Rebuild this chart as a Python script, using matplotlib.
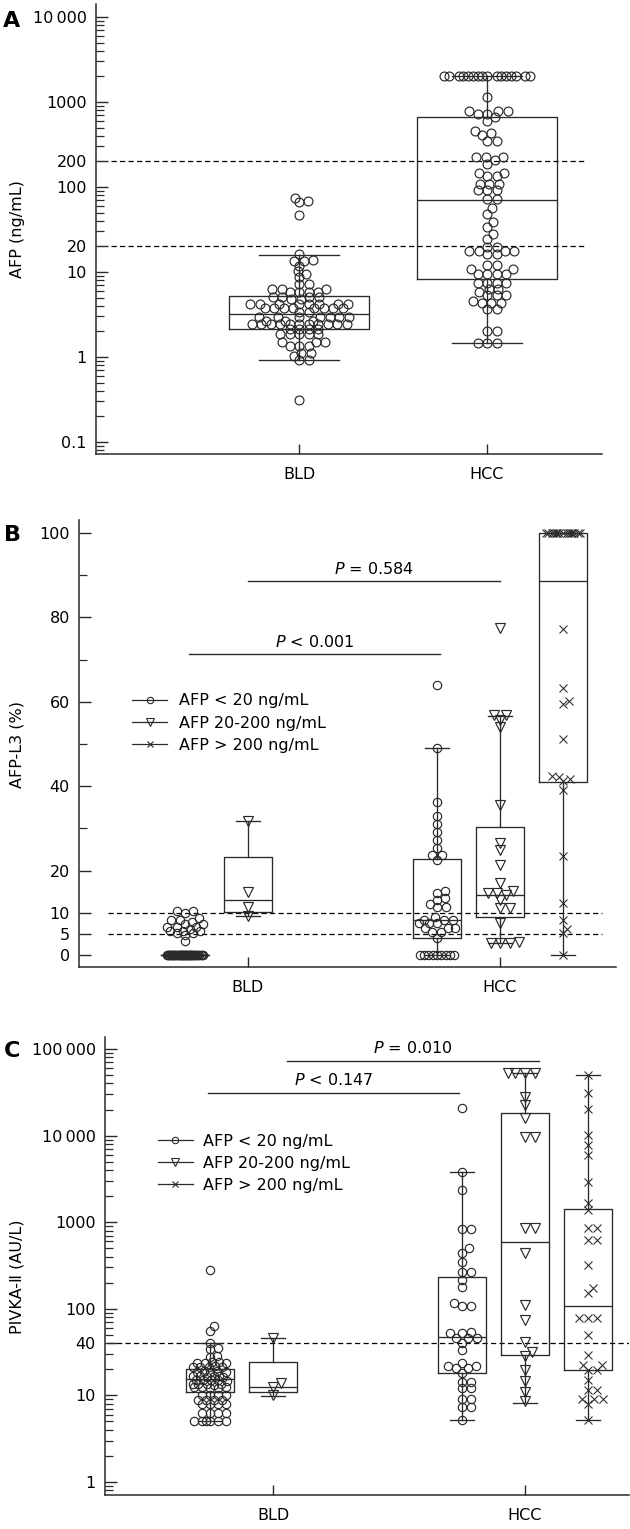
import numpy as np
import matplotlib
matplotlib.use("Agg")
import matplotlib.pyplot as plt
from matplotlib.lines import Line2D
from matplotlib.ticker import FixedLocator, FixedFormatter, NullFormatter

plt.rcParams['font.family'] = ['DejaVu Sans', 'Noto Sans CJK SC']
plt.rcParams['font.size'] = 11.5
plt.rcParams['mathtext.fontset'] = 'dejavusans'

# ---------------- data ----------------
groups = ["BLD", "HCC"]
legend_labels = ["AFP < 20 ng/mL", "AFP 20-200 ng/mL", "AFP > 200 ng/mL"]

# Panel A : AFP (ng/mL)
A_BLD = [74.8, 69, 66, 47, 16.3, 13.6, 13.8, 13.4, 11.9, 10.2, 9.5, 8.7, 7.2, 7.2,
         6.3, 6.3, 6.3, 5.8, 5.8, 5.8, 5.8, 5.04, 5.04, 5.04, 5.04, 4.8, 4.8,
         4.2, 4.2, 4.2, 4.2, 4.2, 4.2, 4.2, 4.2, 3.74, 3.74, 3.74, 3.74, 3.74, 3.74,
         3.74, 3.74, 3.36, 3.36, 2.93, 2.93, 2.93, 2.93, 2.93, 2.93, 2.93, 2.67, 2.67,
         2.67, 2.44, 2.44, 2.44, 2.44, 2.44, 2.44, 2.44, 2.44, 2.44, 2.44, 2.44,
         2.13, 2.13, 2.13, 2.13, 1.86, 1.86, 1.86, 1.86, 1.86, 1.49, 1.49, 1.49,
         1.36, 1.36, 1.36, 1.13, 1.13, 1.04, 0.93, 0.93, 0.31]
A_HCC = [2000] * 16 + [1150, 780, 780, 780, 723, 723, 660, 605, 460, 430, 405, 350, 350,
         224, 224, 224, 208, 187, 148, 148, 133, 133, 108, 108, 108, 91, 91, 91,
         72, 72, 56, 48, 39, 34, 28, 24.4, 19.8, 19.8, 17.8, 17.8, 17.8, 17.8,
         16.3, 16.3, 12.2, 12.2, 10.8, 10.8, 9.5, 9.5, 9.5, 9.5, 7.5, 7.5, 7.5, 7.5,
         6.3, 6.3, 5.8, 5.3, 5.3, 5.3, 4.6, 4.3, 4.3, 4.3, 3.67, 3.67, 2.04, 2.04,
         1.45, 1.45, 1.45]
A_whislo = [0.92, 1.45]
A_q1 = [2.13, 8.3]
A_med = [3.2, 71]
A_q3 = [5.2, 660]
A_whishi = [15.8, 2000]
A_cutoffs = [20, 200]
A_yticks = [0.1, 1, 10, 20, 100, 200, 1000, 10000]
A_yticklabels = ["0.1", "1", "10", "20", "100", "200", "1000", "10\u2009000"]

# Panel B : AFP-L3 (%)
B_BLD_lt20 = [10.5, 10.5, 10.0, 8.7, 8.3, 8.3, 7.9, 7.3, 7.3, 6.7, 6.7, 6.7, 6.2,
              5.8, 5.8, 5.8, 5.1, 5.1, 4.7, 3.3] + [0] * 45
B_BLD_20_200 = [31.8, 15.0, 11.3, 9.2]
B_HCC_lt20 = [64.0, 49.0, 36.3, 32.9, 31.0, 29.2, 27.3, 25.3, 23.7, 23.7, 22.5, 15.2,
              14.6, 13.4, 13.0, 12.2, 11.4, 11.4, 9.0, 8.3, 8.3, 8.3, 7.5, 7.5, 7.5,
              6.5, 6.3, 6.3, 5.5, 5.5, 4.1] + [0] * 9
B_HCC_20_200 = [77.6, 56.9, 56.9, 55.7, 54.1, 35.5, 26.5, 24.9, 21.3, 17.0, 15.2,
                14.8, 14.8, 14.2, 13.0, 11.2, 11.2, 7.7, 3.2, 2.8, 2.8, 2.8]
B_HCC_gt200 = [100] * 15 + [77.2, 63.2, 60.2, 59.5, 51.1, 42.5, 42.2, 41.7, 41.2, 39.1,
                            23.5, 12.4, 8.3, 6.1, 5.1, 0.0]
# box stats order: BLD<20, BLD 20-200, HCC<20, HCC 20-200, HCC>200
B_whislo = [0, 9.2, 0, 2.8, 0]
B_q1 = [0, 10.1, 4.1, 8.9, 40.9]
B_med = [0, 13.0, 8.3, 14.2, 88.6]
B_q3 = [0, 23.3, 22.7, 30.3, 100]
B_whishi = [0, 31.8, 49.0, 56.7, 100]
B_cutoffs = [5, 10]
B_yticks = [0, 5, 10, 20, 40, 60, 80, 100]
B_pvals = ["$\\mathit{P}$ < 0.001", "$\\mathit{P}$ = 0.584"]
B_pline_y = [71.3, 88.6]

# Panel C : PIVKA-II (AU/L)
C_BLD_lt20 = [281, 63, 56, 40, 35, 34, 28.5, 27.5, 24.2, 23.8, 23.5, 24.0, 23.6,
              21.8, 21.4, 21.2, 21.5, 21.0, 19.0, 18.8, 18.6, 18.9, 18.5, 16.9, 16.7,
              16.5, 16.8, 16.6, 16.4, 15.2, 15.0, 14.8, 15.1, 14.9, 13.7, 13.5, 13.3,
              13.6, 13.4, 12.5, 12.4, 12.2, 12.6, 12.3, 10.1, 10.1, 10.1, 10.1, 8.9, 8.9,
              8.9, 8.9, 7.9, 7.9, 7.9, 7.9, 6.2, 6.2, 6.2, 6.2, 5.0, 5.0, 5.0, 5.0, 5.0, 5.0]
C_BLD_20_200 = [46, 13.8, 12.6, 10.0]
C_HCC_lt20 = [20650, 3830, 2350, 828, 828, 500, 445, 350, 264, 264, 215, 180, 116, 108,
              108, 54, 52, 52, 46, 46, 46, 40.5, 33.4, 23.8, 21.9, 21.9, 20.5, 20.5,
              18.0, 14.4, 14.4, 12.1, 12.1, 9.2, 9.2, 7.4, 7.4, 5.2]
C_HCC_20_200 = [52400, 52400, 52400, 52400, 28100, 22600, 15800, 9700, 9700, 850, 850,
                437, 111, 74, 41.7, 32, 28.5, 19.7, 14.8, 11.0, 8.5]
C_HCC_gt200 = [50100, 30800, 20300, 10200, 7800, 5970, 2940, 1650, 1380, 850, 850, 620,
               620, 320, 172, 151, 79, 79, 79, 50, 29, 22.4, 22.4, 19.7, 19.7, 15, 11.5,
               11.5, 9, 9, 9, 8, 5.2]
C_whislo = [5.0, 9.9, 5.2, 8.1, 5.2]
C_q1 = [11.0, 11.0, 18.3, 29.2, 19.7]
C_med = [15.3, 12.6, 47.5, 586, 108]
C_q3 = [20.0, 24.5, 231, 18400, 1420]
C_whishi = [40, 46, 3830, 52400, 50100]
C_cutoffs = [40]
C_yticks = [1, 10, 40, 100, 1000, 10000, 100000]
C_yticklabels = ["1", "10", "40", "100", "1000", "10\u2009000", "100\u2009000"]
C_pvals = ["$\\mathit{P}$ < 0.147", "$\\mathit{P}$ = 0.010"]
C_pline_y = [31000, 72600]

# ---------------- layout / style ----------------
FW, FH = 630, 1529
INK = "#2a2a2a"
fig = plt.figure(figsize=(FW / 100, FH / 100), dpi=100)


def px_axes(l, t, r, b):
    return fig.add_axes([l / FW, 1 - b / FH, (r - l) / FW, (b - t) / FH])


axA = px_axes(96, 4, 602, 454)
axB = px_axes(79, 520, 616, 967)
axC = px_axes(105, 1037, 629, 1495)


def style(ax):
    for s in ["top", "right"]:
        ax.spines[s].set_visible(False)
    for s in ["left", "bottom"]:
        ax.spines[s].set_linewidth(1.1)
        ax.spines[s].set_color(INK)
    ax.tick_params(which="both", direction="in", color=INK)
    ax.tick_params(axis="y", which="major", length=8.5, width=1.0, pad=6.5)
    ax.tick_params(axis="y", which="minor", length=5.5, width=0.9)
    ax.tick_params(axis="x", which="major", length=7.5, width=1.0, pad=9.5)
    ax.tick_params(axis="x", which="minor", length=0)


def swarm_x(ax, xc, vals, Dx, Dy, maxw):
    """Anisotropic beeswarm in pixel space: points closer than Dy vertically
    are pushed apart horizontally (Dx for equal values); width limited to maxw."""
    vals = np.asarray(vals, dtype=float)
    pts = ax.transData.transform(np.column_stack([np.full(len(vals), xc), vals]))
    x0 = pts[0, 0]
    ys = pts[:, 1]
    order = np.argsort(ys, kind="stable")
    placed = []
    offs = np.zeros(len(vals))
    grid = np.linspace(-maxw, maxw, 121)

    def ok(c, y, near):
        return all(((c - px) / Dx) ** 2 + ((y - py) / Dy) ** 2 >= 1 - 1e-6 for px, py in near)

    for i in order:
        y = ys[i]
        near = [(px, py) for px, py in placed if abs(py - y) < Dy]
        cands = [0.0]
        for px, py in near:
            h = Dx * np.sqrt(max(1 - ((py - y) / Dy) ** 2, 0.0))
            cands += [px + h, px - h]
        cands = sorted(set(np.round(cands, 6)), key=lambda c: (abs(c), -c))
        chosen = None
        for c in cands:
            if abs(c) <= maxw + 1e-6 and ok(c, y, near):
                chosen = c
                break
        if chosen is None:
            best, bestd = 0.0, -1
            for g in grid:
                dmin = min(((g - px) / Dx) ** 2 + ((y - py) / Dy) ** 2 for px, py in near)
                if dmin > bestd + 1e-9:
                    best, bestd = g, dmin
            chosen = best
        placed.append((chosen, y))
        offs[i] = chosen
    xs = ax.transData.inverted().transform(np.column_stack([x0 + offs, ys]))[:, 0]
    return xs


def boxes(ax, pos, lo, q1, med, q3, hi, width, capw):
    stats = [dict(whislo=a, q1=b, med=c, q3=d, whishi=e, fliers=[])
             for a, b, c, d, e in zip(lo, q1, med, q3, hi)]
    lp = dict(color=INK, linewidth=0.95)
    ax.bxp(stats, positions=pos, widths=width, capwidths=capw, showfliers=False,
           boxprops=lp, whiskerprops=lp, capprops=lp, medianprops=lp,
           manage_ticks=False, zorder=2)


def points(ax, xc, vals, marker, ms, Dx, Dy, maxw, mew=0.85):
    xs = swarm_x(ax, xc, vals, Dx, Dy, maxw)
    if marker == "x":
        ax.plot(xs, vals, ls="none", marker="x", ms=ms, mew=mew * 0.9, color=INK, zorder=3,
                clip_on=False)
    else:
        ax.plot(xs, vals, ls="none", marker=marker, ms=ms, mfc="none", mec=INK, mew=mew,
                zorder=3, clip_on=False)


dash = (0, (4.2, 2.6))
label_kw = dict(fontsize=11.5)

# ---------------- Panel A ----------------
style(axA)
axA.set_yscale("log")
axA.set_ylim(0.0723, 14220)
axA.set_xlim(-0.0798, 2.6117)
axA.yaxis.set_major_locator(FixedLocator(A_yticks))
axA.yaxis.set_major_formatter(FixedFormatter(A_yticklabels))
minA = [k * 10.0 ** e for e in range(-2, 5) for k in range(2, 10)]
minA = [m for m in minA if 0.0723 < m < 14220 and m not in (20, 200)]
axA.yaxis.set_minor_locator(FixedLocator(minA))
axA.yaxis.set_minor_formatter(NullFormatter())
axA.set_xticks([1, 2])
axA.set_xticklabels(groups)
for c in A_cutoffs:
    axA.plot([0.0, 2.53], [c, c], ls=dash, lw=0.9, color="black", zorder=1)
boxes(axA, [1, 2], A_whislo, A_q1, A_med, A_q3, A_whishi, [0.745, 0.745], [0.43, 0.37])
points(axA, 1, A_BLD, "o", 6.4, 9.5, 5.0, 50)
points(axA, 2, A_HCC, "o", 6.4, 9.5, 6.5, 43)
axA.set_ylabel("AFP (ng/mL)", **label_kw)
axA.yaxis.set_label_coords(-0.156, 0.5)
axA.yaxis.label.set_va("center")
fig.text(12 / FW, 1 - 21 / FH, "A", fontsize=16, fontweight="bold", ha="center", va="center")

# ---------------- Panel B ----------------
style(axB)
axB.set_ylim(-2.84, 103.1)
axB.set_xlim(0.3294, 2.4603)
axB.yaxis.set_major_locator(FixedLocator(B_yticks))
axB.yaxis.set_minor_locator(FixedLocator([30, 50, 70, 90]))
axB.yaxis.set_minor_formatter(NullFormatter())
axB.set_xticks([1, 2])
axB.set_xticklabels(groups)
for c in B_cutoffs:
    axB.plot([0.444, 2.405], [c, c], ls=dash, lw=0.9, color="black", zorder=1)
off = 0.25
posB = [1 - off, 1, 2 - off, 2, 2 + off]
boxes(axB, posB, B_whislo, B_q1, B_med, B_q3, B_whishi, [0.187] * 5, [0.093] * 5)
points(axB, 1 - off, B_BLD_lt20, "o", 6.0, 8.3, 5.5, 18)
points(axB, 1, B_BLD_20_200, "v", 7.6, 10.0, 6.0, 19)
points(axB, 2 - off, B_HCC_lt20, "o", 6.0, 8.6, 6.5, 18)
points(axB, 2, B_HCC_20_200, "v", 7.6, 9.5, 6.5, 19)
points(axB, 2 + off, B_HCC_gt200, "x", 5.4, 7.5, 5.0, 17)
for (g0, g1), yv, txt in zip([(1 - off + 0.015, 2 - off + 0.012), (1.0, 2.0)], B_pline_y, B_pvals):
    axB.plot([g0, g1], [yv, yv], color=INK, lw=1.0)
    axB.text((g0 + g1) / 2, yv + 2.9, txt, ha="center", va="center", fontsize=11.5)
hB = [Line2D([], [], color=INK, lw=0.9, marker=m, ms=s, mfc="none", mec=INK, mew=0.8)
      for m, s in zip(["o", "v", "x"], [4.6, 5.2, 4.4])]
axB.legend(hB, legend_labels, loc="upper left", bbox_to_anchor=(0.0987, 0.612),
           frameon=False, borderpad=0, borderaxespad=0, handlelength=2.2,
           handletextpad=0.75, labelspacing=0.45, fontsize=11.5)
axB.set_ylabel("AFP-L3 (%)", **label_kw)
axB.yaxis.set_label_coords(-0.1155, 0.497)
axB.yaxis.label.set_va("center")
fig.text(12 / FW, 1 - 535 / FH, "B", fontsize=16, fontweight="bold", ha="center", va="center")

# ---------------- Panel C ----------------
style(axC)
axC.set_yscale("log")
axC.set_ylim(0.707, 137600)
axC.set_xlim(0.3333, 2.4127)
axC.yaxis.set_major_locator(FixedLocator(C_yticks))
axC.yaxis.set_major_formatter(FixedFormatter(C_yticklabels))
minC = [k * 10.0 ** e for e in range(-1, 6) for k in range(2, 10)]
minC = [m for m in minC if 0.707 < m < 137600 and m != 40]
axC.yaxis.set_minor_locator(FixedLocator(minC))
axC.yaxis.set_minor_formatter(NullFormatter())
axC.set_xticks([1, 2])
axC.set_xticklabels(groups)
for c in C_cutoffs:
    axC.axhline(c, xmin=0.006, xmax=1.0, ls=dash, lw=0.9, color="black", zorder=1)
boxes(axC, posB, C_whislo, C_q1, C_med, C_q3, C_whishi, [0.187] * 5, [0.093] * 5)
points(axC, 1 - off, C_BLD_lt20, "o", 6.0, 8.0, 5.0, 17)
points(axC, 1, C_BLD_20_200, "v", 7.6, 10.0, 6.0, 19)
points(axC, 2 - off, C_HCC_lt20, "o", 6.0, 9.0, 6.5, 17)
points(axC, 2, C_HCC_20_200, "v", 7.6, 10.0, 6.5, 17)
points(axC, 2 + off, C_HCC_gt200, "x", 5.4, 9.0, 6.0, 17)
for (g0, g1), yv, txt in zip([(1 - off - 0.008, 2 - off - 0.012), (1.055, 2.055)], C_pline_y, C_pvals):
    axC.plot([g0, g1], [yv, yv], color=INK, lw=1.0)
    axC.text((g0 + g1) / 2, yv * 1.42, txt, ha="center", va="center", fontsize=11.5)
axC.legend(hB, legend_labels, loc="upper left", bbox_to_anchor=(0.101, 0.789),
           frameon=False, borderpad=0, borderaxespad=0, handlelength=2.2,
           handletextpad=0.6, labelspacing=0.45, fontsize=11.5)
axC.set_ylabel("PIVKA-\u2161 (AU/L)", **label_kw)
axC.yaxis.set_label_coords(-0.168, 0.476)
axC.yaxis.label.set_va("center")
fig.text(12 / FW, 1 - 1051 / FH, "C", fontsize=16, fontweight="bold", ha="center", va="center")

fig.savefig("out.png", dpi=100)
